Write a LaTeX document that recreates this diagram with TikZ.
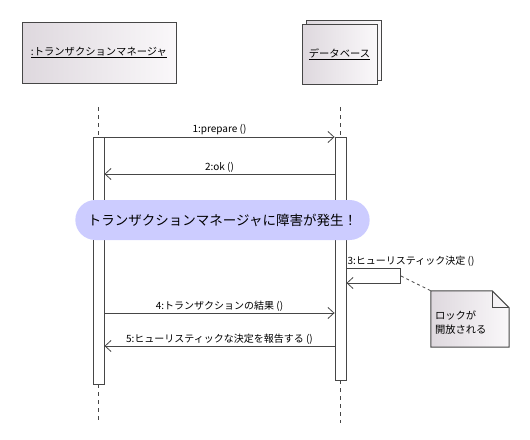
\documentclass[tikz,border=0pt]{standalone}
\usepackage{fontspec}
\setmainfont{Noto Sans CJK JP}
\usetikzlibrary{arrows.meta,shapes.misc}

\definecolor{objdark}{RGB}{222,216,222}
\definecolor{objlight}{RGB}{250,248,250}
\definecolor{edgegray}{RGB}{70,70,70}
\definecolor{failblue}{RGB}{204,204,255}

\tikzset{
  obj/.style={draw=edgegray, line width=1pt, left color=objdark, right color=objlight,
    font=\fontsize{10.3}{12}\selectfont},
  act/.style={draw=edgegray, line width=.9pt, fill=white, minimum width=11pt, inner sep=0pt},
  life/.style={edgegray, line width=.8pt, dash pattern=on 4pt off 4pt},
  msg/.style={edgegray, line width=.8pt},
  lbl/.style={above, inner sep=1.5pt, font=\fontsize{10}{11}\selectfont, text=black},
  banner/.style={rounded rectangle, fill=failblue, minimum width=301pt, minimum height=40pt,
    font=\fontsize{13.5}{15}\selectfont},
  notebox/.style={minimum width=78pt, minimum height=56pt, inner sep=4pt, text width=70pt,
    align=left, font=\fontsize{10.3}{14}\selectfont}
}

\begin{document}
\begin{tikzpicture}[x=1pt, y=-1pt, >={Straight Barb[length=6pt,width=11pt]}]
\useasboundingbox (0,0) rectangle (530,439);

% objects
\node[obj, minimum width=154pt, minimum height=61pt] (tm) at (99,52.5) {\underline{:トランザクションマネージャ}};
\node[obj, minimum width=75pt, minimum height=60pt] (dbback) at (343.5,50) {};
\node[obj, minimum width=75pt, minimum height=60pt] (db) at (339.5,54) {\underline{データベース}};

% activations
\node[act, minimum height=247pt] (acttm) at (98.5,260.5) {};
\node[act, minimum height=243pt] (actdb) at (340.5,258.5) {};

% lifelines
\coordinate (tmtop) at (98.5,107);
\coordinate (dbtop) at (340.5,107);
\coordinate (tmend) at (98.5,423);
\coordinate (dbend) at (340.5,423);
\draw[life] (tmtop) -- (acttm.north);
\draw[life] (dbtop) -- (actdb.north);
\draw[life] (acttm.south) -- (tmend);
\draw[life] (actdb.south) -- (dbend);

% messages
\coordinate (m1) at (0,137);
\coordinate (m2) at (0,174);
\coordinate (m4) at (0,313);
\coordinate (m5) at (0,346);
\draw[msg,->] (acttm.east |- m1) -- node[lbl]{1:prepare ()} (actdb.west |- m1);
\draw[msg,->] (actdb.west |- m2) -- node[lbl]{2:ok ()} (acttm.east |- m2);
\draw[msg,->] (acttm.east |- m4) -- node[lbl]{4:トランザクションの結果 ()} (actdb.west |- m4);
\draw[msg,->] (actdb.west |- m5) -- node[lbl]{5:ヒューリスティックな決定を報告する ()} (acttm.east |- m5);

% failure
\node[banner] (fail) at (222.5,220) {トランザクションマネージャに障害が発生！};

% self call
\coordinate (m3) at (0,268);
\coordinate (m3turn) at (400,268);
\coordinate (m3back) at (400,283);
\draw[msg,->] (actdb.east |- m3) -- (m3turn) -- (m3back) -- (actdb.east |- m3back);
\node[lbl, anchor=south west, inner sep=1pt] (m3lbl) at (actdb.east |- m3) {3:ヒューリスティック決定 ()};

% note
\node[notebox] (note) at (470,319) {};
\draw[obj] (note.north west) -- ([xshift=-17pt]note.north east) -- ([yshift=-17pt]note.north east)
  -- (note.south east) -- (note.south west) -- cycle;
\draw[edgegray, line width=1pt] ([xshift=-17pt]note.north east) -- ([xshift=-17pt,yshift=-17pt]note.north east)
  -- ([yshift=-17pt]note.north east);
\node[notebox] (notetext) at (470,323) {ロックが\\開放される};
\coordinate (m3side) at (401,276);
\draw[msg, dashed] (m3side) -- (note.north west);
\end{tikzpicture}
\end{document}
